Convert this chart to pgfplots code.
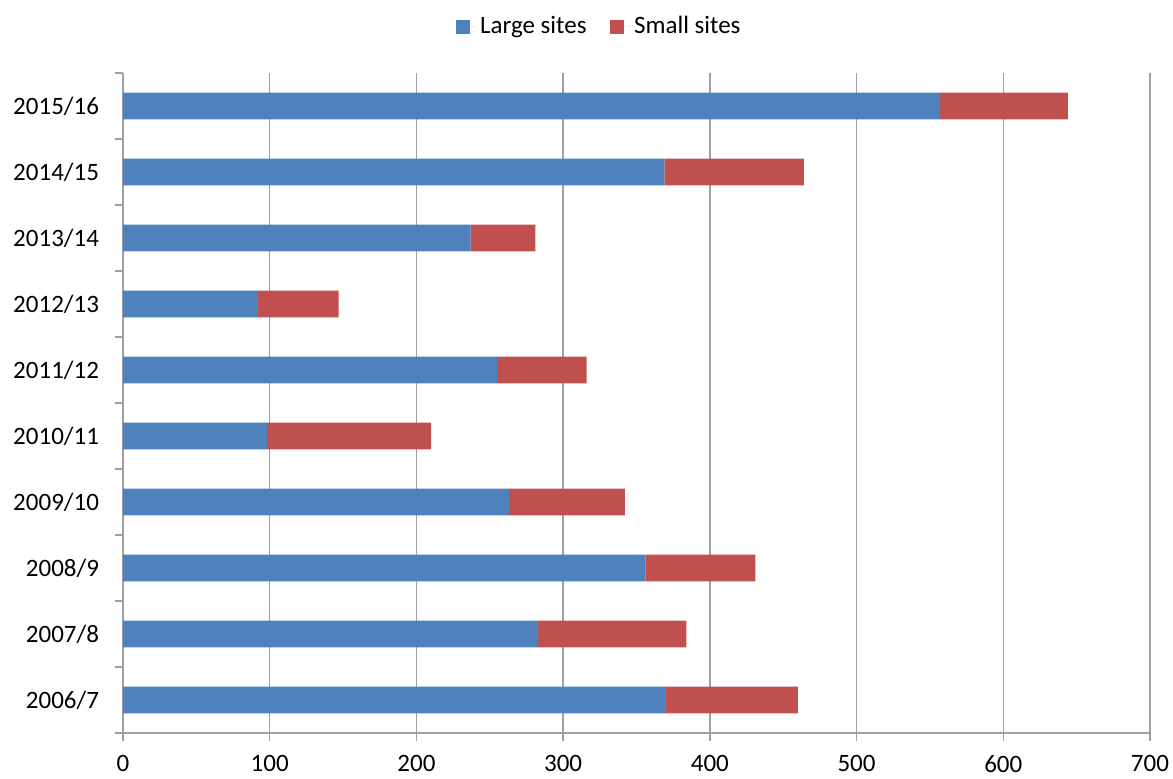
\documentclass[border=0pt]{standalone}
\usepackage{pgfplots}
\pgfplotsset{compat=1.18}
\usepackage{fontspec}
\setmainfont{Carlito}
\definecolor{largeblue}{HTML}{4F81BD}
\definecolor{smallred}{HTML}{C0504D}
\definecolor{axisgray}{HTML}{A0A0A0}

\begin{document}
\begin{tikzpicture}
\begin{axis}[
  at={(0pt,0pt)}, anchor=south west,
  xbar stacked,
  scale only axis,
  width=513.5pt, height=330pt,
  xmin=0, xmax=700,
  ymin=-0.5, ymax=9.5,
  xtick={0,100,...,700},
  ytick={0,...,9},
  yticklabels={2006/7,2007/8,2008/9,2009/10,2010/11,2011/12,2012/13,2013/14,2014/15,2015/16},
  minor ytick={-0.5,0.5,...,9.5},
  axis x line*=bottom,
  axis y line*=left,
  axis line style={axisgray, line width=0.7pt, -},
  tick align=outside,
  major tick length=4pt,
  minor tick length=4pt,
  every major x tick/.append style={axisgray, line width=0.7pt},
  every major y tick/.append style={draw=none},
  every minor y tick/.append style={axisgray, line width=0.7pt},
  xmajorgrids,
  grid style={axisgray, line width=0.7pt},
  bar width=13.3pt,
  tick label style={font=\fontsize{12.5}{15}\selectfont, text=black},
  yticklabel style={xshift=-4.5pt},
  xticklabel style={inner sep=1pt, yshift=-6pt},
  /pgf/number format/assume math mode=true,
  legend style={at={(0.4645,1.070)}, anchor=center, draw=none,
    font=\fontsize{12.5}{15}\selectfont, legend columns=2,
    /tikz/every even column/.append style={column sep=9.5pt}},
  legend image code/.code={\fill[#1] (0pt,-3.6pt) rectangle (7.3pt,3.6pt);
    \path (0pt,0pt) -- (10.3pt,0pt);},
]
% large sites
\addplot[fill=largeblue, draw=none] coordinates {
  (370,0) (283,1) (356,2) (263,3) (98,4) (255,5) (92,6) (237,7) (369,8) (557,9)};
% small sites
\addplot[fill=smallred, draw=none] coordinates {
  (90,0) (101,1) (75,2) (79,3) (112,4) (61,5) (55,6) (44,7) (95,8) (87,9)};
\legend{Large sites, Small sites}
\end{axis}
% page frame around the axis and its labels
\pgfresetboundingbox
\path[use as bounding box] (-61.5pt,-23pt) rectangle (525pt,366.5pt);
\end{tikzpicture}
\end{document}
